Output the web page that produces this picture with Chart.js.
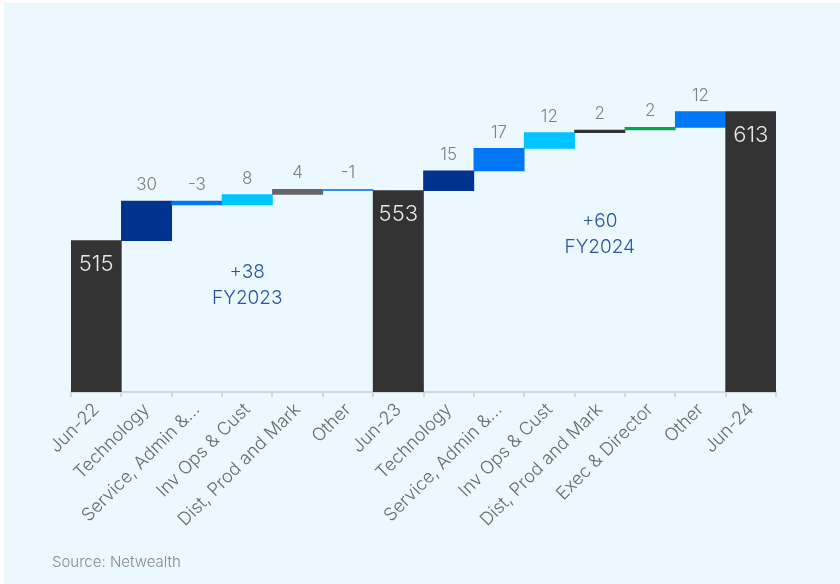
<!DOCTYPE html>
<html>
<head>
<meta charset="utf-8">
<script src="https://cdn.jsdelivr.net/npm/chart.js@4.4.1/dist/chart.umd.min.js"></script>
<style>
  html, body { margin: 0; padding: 0; background: #fff; }
  #wrap { position: relative; width: 840px; height: 584px; overflow: hidden; }
  #bg { position: absolute; left: 4px; top: 3px; right: 0; bottom: 0; background: #ebf8fe; }
  #c { position: absolute; left: 0; top: 0; }
  #src { position: absolute; left: 52px; top: 552px; font: 300 15px Inter, sans-serif; color: #8a8a8a; }
</style>
</head>
<body>
<div id="wrap">
  <div id="bg"></div>
  <canvas id="c" width="840" height="584"></canvas>
  <div id="src">Source: Netwealth</div>
</div>
<script>
// categorias y valores (totales y variaciones)
const labels = ['Jun-22', 'Technology', 'Service, Admin &...', 'Inv Ops & Cust', 'Dist, Prod and Mark', 'Other',
  'Jun-23', 'Technology', 'Service, Admin &...', 'Inv Ops & Cust', 'Dist, Prod and Mark', 'Exec & Director', 'Other', 'Jun-24'];
const isTotal = [true, false, false, false, false, false, true, false, false, false, false, false, false, true];
const values = [515, 30, -3, 8, 4, -1, 553, 15, 17, 12, 2, 2, 12, 613];
const colors = ['#333333', '#00338d', '#0077f5', '#00c4ff', '#666666', '#2f8ff0',
  '#333333', '#00338d', '#0077f5', '#00c4ff', '#333333', '#00a850', '#0077f5', '#333333'];
const yMin = 400, yMax = 640;

// notas de cada año
const notes = [
  { lines: ['+38', 'FY2023'], cat: 3, y: 481 },
  { lines: ['+60', 'FY2024'], cat: 10, y: 520 }
];

// barras flotantes
let run = 0;
const ranges = values.map((v, i) => {
  if (isTotal[i]) { run = v; return [yMin, v]; }
  const r = [run, run + v];
  run += v;
  return r;
});

const FONT = 'Inter, sans-serif';

const labelPlugin = {
  id: 'wfLabels',
  afterDatasetsDraw(chart) {
    const ctx = chart.ctx;
    const meta = chart.getDatasetMeta(0);
    const x = chart.scales.x, y = chart.scales.y;
    ctx.save();
    ctx.textAlign = 'center';
    ctx.textBaseline = 'middle';
    meta.data.forEach((bar, i) => {
      const top = y.getPixelForValue(Math.max(ranges[i][0], ranges[i][1]));
      if (isTotal[i]) {
        ctx.font = '300 22px ' + FONT;
        ctx.fillStyle = '#e6e6e6';
        ctx.fillText(String(values[i]), bar.x, top + 24);
      } else {
        ctx.font = '300 17px ' + FONT;
        ctx.fillStyle = '#808080';
        ctx.fillText(String(values[i]), bar.x, top - 16);
      }
    });
    ctx.font = '300 19px ' + FONT;
    ctx.fillStyle = '#2b55a3';
    notes.forEach(n => {
      const cx = x.getPixelForValue(n.cat);
      const cy = y.getPixelForValue(n.y);
      ctx.fillText(n.lines[0], cx, cy - 13);
      ctx.fillText(n.lines[1], cx, cy + 13);
    });
    ctx.restore();
  }
};

new Chart(document.getElementById('c'), {
  type: 'bar',
  data: {
    labels: labels,
    datasets: [{
      data: ranges,
      backgroundColor: colors,
      borderWidth: 0,
      barPercentage: 1,
      categoryPercentage: 1,
      borderSkipped: false
    }]
  },
  options: {
    responsive: false,
    animation: false,
    layout: { padding: { left: 71, right: 64, top: 76, bottom: 0 } },
    plugins: { legend: { display: false }, tooltip: { enabled: false } },
    scales: {
      y: { display: false, min: yMin, max: yMax },
      x: {
        afterFit(s) { s.height = 192; },
        grid: { offset: true, drawOnChartArea: false, tickLength: 5, color: '#d6d6d6', lineWidth: 2 },
        border: { color: '#d6d6d6', width: 2 },
        ticks: {
          minRotation: 45, maxRotation: 45, autoSkip: false, padding: 2,
          color: '#6b6b6b', font: { family: FONT, size: 18, weight: '300' }
        }
      }
    }
  },
  plugins: [labelPlugin]
});
</script>
</body>
</html>
